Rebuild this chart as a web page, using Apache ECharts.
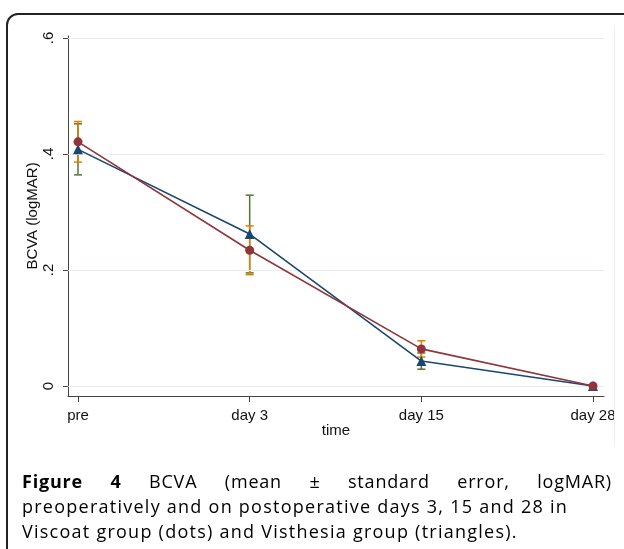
<!DOCTYPE html>
<html>
<head>
<meta charset="utf-8">
<script src="https://cdn.jsdelivr.net/npm/echarts@6/dist/echarts.min.js"></script>
<style>
  html, body { margin: 0; padding: 0; background: #fff; }
  #wrap { position: relative; width: 624px; height: 549px; overflow: hidden; background: #fff; }
  #chart { position: absolute; left: 0; top: 0; width: 624px; height: 549px; }
  #frame { position: absolute; left: 6px; top: 13px; width: 700px; height: 700px; border: 2px solid #222; border-radius: 12px; box-sizing: border-box; pointer-events: none; }
  #edge { position: absolute; left: 614px; top: 26px; width: 1px; height: 420px; background: #eeeeee; }
  #caption { position: absolute; left: 22px; top: 469px; width: 590px; font-family: "Open Sans", "Noto Sans", sans-serif; font-size: 18px; line-height: 25px; letter-spacing: 1.25px; color: #000; white-space: nowrap; }
  #caption .l1 { text-align: justify; text-align-last: justify; white-space: normal; letter-spacing: 0.8px; }
  #caption b { font-weight: 700; }
</style>
</head>
<body>
<div id="wrap">
  <div id="chart"></div>
  <div id="edge"></div>
  <div id="frame"></div>
  <div id="caption">
    <div class="l1"><b>Figure 4</b> BCVA (mean ± standard error, logMAR)</div>
    <div>preoperatively and on postoperative days 3, 15 and 28 in</div>
    <div>Viscoat group (dots) and Visthesia group (triangles).</div>
  </div>
</div>
<script>
// ---- data ----
const categories = ['pre', 'day 3', 'day 15', 'day 28'];
const viscoatMean = [0.421, 0.234, 0.064, 0.0];
const viscoatSE = [0.035, 0.042, 0.014, 0.0];
const visthesiaMean = [0.408, 0.262, 0.043, 0.0];
const visthesiaSE = [0.044, 0.067, 0.014, 0.0];
const yTicks = [0, 0.2, 0.4, 0.6];
const xTicks = [0, 1, 2, 3];

const NAVY = '#1a476f', MAROON = '#90353b', GREEN = '#55752f', ORANGE = '#e37e00';
const FONT = '"Liberation Sans", Arial, sans-serif';

const chart = echarts.init(document.getElementById('chart'), null, { renderer: 'canvas' });

function pts(means) { return means.map((m, i) => [i, m]); }
function bars(means, ses) { return means.map((m, i) => [i, m - ses[i], m + ses[i]]); }

function errRender(color) {
  return function (params, api) {
    const x = api.value(0);
    const lo = api.coord([x, api.value(1)]);
    const hi = api.coord([x, api.value(2)]);
    const w = 4;
    const style = { stroke: color, lineWidth: 1.5 };
    return {
      type: 'group',
      children: [
        { type: 'line', shape: { x1: lo[0], y1: lo[1], x2: hi[0], y2: hi[1] }, style },
        { type: 'line', shape: { x1: hi[0] - w, y1: hi[1], x2: hi[0] + w, y2: hi[1] }, style },
        { type: 'line', shape: { x1: lo[0] - w, y1: lo[1], x2: lo[0] + w, y2: lo[1] }, style }
      ]
    };
  };
}

chart.setOption({
  animation: false,
  backgroundColor: 'transparent',
  grid: { left: 68, top: 36, width: 536, height: 360, containLabel: false },
  xAxis: {
    type: 'value',
    min: -0.0583, max: 3.064,
    name: 'time', nameLocation: 'middle', nameGap: 27, nameMoveOverlap: false,
    nameTextStyle: { fontFamily: FONT, fontSize: 15, color: '#111' },
    axisLine: { show: true, onZero: false, lineStyle: { color: '#444', width: 1 } },
    axisTick: { show: true, length: 6, customValues: xTicks, lineStyle: { color: '#444' } },
    axisLabel: { customValues: xTicks, margin: 12, fontFamily: FONT, fontSize: 15, color: '#111',
      formatter: v => categories[Math.round(v)] },
    splitLine: { show: false }
  },
  yAxis: {
    type: 'value',
    min: -0.0172, max: 0.6034,
    name: 'BCVA (logMAR)', nameLocation: 'middle', nameGap: 28, nameRotate: 90, nameMoveOverlap: false,
    nameTextStyle: { fontFamily: FONT, fontSize: 15, color: '#111' },
    axisLine: { show: true, onZero: false, lineStyle: { color: '#444', width: 1 } },
    axisTick: { show: true, length: 5, customValues: yTicks, lineStyle: { color: '#444' } },
    axisLabel: { customValues: yTicks, rotate: 90, margin: 12, fontFamily: FONT, fontSize: 15, color: '#111',
      formatter: v => (v === 0 ? '0' : String(+v.toFixed(1)).replace(/^0/, '')) },
    splitLine: { show: false }
  },
  series: [
    {
      type: 'line', data: [], silent: true, z: 0,
      markLine: {
        silent: true, symbol: 'none', label: { show: false },
        lineStyle: { color: '#e6eef0', width: 1, type: 'solid' },
        data: yTicks.map(v => ({ yAxis: v }))
      }
    },
    { type: 'custom', name: 'Visthesia SE', renderItem: errRender(GREEN), data: bars(visthesiaMean, visthesiaSE), z: 3, encode: { x: 0, y: [1, 2] } },
    { type: 'custom', name: 'Viscoat SE', renderItem: errRender(ORANGE), data: bars(viscoatMean, viscoatSE), z: 4, encode: { x: 0, y: [1, 2] } },
    {
      type: 'line', name: 'Visthesia', data: pts(visthesiaMean), z: 5,
      symbol: 'triangle', symbolSize: 10,
      lineStyle: { color: NAVY, width: 1.6 }, itemStyle: { color: NAVY }
    },
    {
      type: 'line', name: 'Viscoat', data: pts(viscoatMean), z: 6,
      symbol: 'circle', symbolSize: 9,
      lineStyle: { color: MAROON, width: 1.6 }, itemStyle: { color: MAROON }
    }
  ]
});
</script>
</body>
</html>
